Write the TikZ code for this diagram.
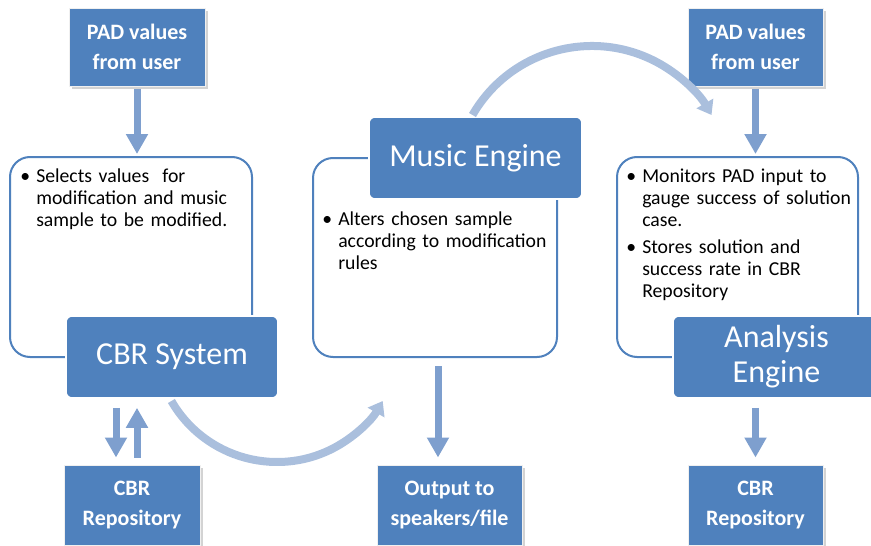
\documentclass[tikz,border=0pt]{standalone}
\usepackage{fontspec}
\setmainfont{Carlito}
\usetikzlibrary{arrows.meta,shadows}
\definecolor{boxblue}{RGB}{79,129,189}
\definecolor{arrblue}{RGB}{126,159,206}
\definecolor{curvblue}{RGB}{170,191,221}
\definecolor{lineblue}{RGB}{79,129,189}
\newcommand\bitem[1]{\hangindent=12pt\hangafter=1\noindent\makebox[12pt][l]{\textbullet}\strut#1\par}
\begin{document}
\begin{tikzpicture}[x=0.75pt,y=0.75pt,
  smallbox/.style={fill=boxblue, draw=gray!12, line width=0.75pt, text=white,
    font=\bfseries\fontsize{16.5pt}{22.5pt}\selectfont, align=center,
    minimum width=102pt, minimum height=60pt, inner sep=0pt,
    drop shadow={shadow xshift=2pt, shadow yshift=-2pt, opacity=0.35}},
  bigbox/.style={fill=boxblue, draw=white, line width=1.2pt, rounded corners=4.5pt,
    text=white, font=\fontsize{24pt}{26.25pt}\selectfont, align=center,
    minimum height=61.5pt, inner sep=0pt},
  panel/.style={draw=lineblue, line width=1.5pt, rounded corners=15pt, fill=white,
    minimum height=150pt, inner sep=0pt},
  bul/.style={anchor=north west, inner sep=0pt, text width=180pt,
    font=\fontsize{14.8pt}{16.5pt}\selectfont},
  arr/.style={draw=arrblue, line width=5.25pt, -{Triangle[width=15.75pt,length=15pt]}},
  curv/.style={draw=curvblue, line width=6pt, -{Triangle[width=14pt,length=10pt]}}]
\useasboundingbox (0,0) rectangle (871,-546);

% panels
\node[panel, minimum width=181.5pt] (L) at (131,-257) {};
\node[panel, minimum width=183pt, minimum height=149.25pt] (M) at (435,-257.5) {};
\node[panel, minimum width=180.75pt] (R) at (737.5,-257) {};

% bullet texts
\node[bul] (tL) at (20,-166.6) {\bitem{Selects values\ \ for\newline modification and music\newline sample to be modified.}};
\node[bul] (tM) at (322,-209.6) {\bitem{Alters chosen sample\newline according to modification\newline rules}};
\node[bul] (tR) at (626,-166.6) {\setlength{\parskip}{3.75pt}\bitem{Monitors PAD input to\newline gauge success of solution\newline case.}\bitem{Stores solution and\newline success rate in CBR\newline Repository}};

% big boxes
\node[bigbox, minimum width=159pt] (CBR) at (172,-357) {CBR System};
\node[bigbox, minimum width=159.75pt] (ME) at (475.5,-158) {Music Engine};
\node[bigbox, minimum width=155.25pt] (AE) at (776.5,-357) {Analysis\\Engine};

% small boxes
\node[smallbox, minimum height=58.5pt] (PAD1) at (137,-47) {PAD values\\from user};
\node[smallbox, minimum height=58.5pt, minimum width=101.25pt] (PAD2) at (755.5,-47) {PAD values\\from user};
\node[smallbox] (Rep1) at (132,-505) {CBR\\Repository};
\node[smallbox, minimum width=108.75pt] (Out) at (449.5,-505) {Output to\\speakers/file};
\node[smallbox, minimum width=101.25pt] (Rep2) at (755.5,-505) {CBR\\Repository};

% helper coordinates
\coordinate (dnx) at (116,0);
\coordinate (upx) at (137,0);
\coordinate (ox) at (438,0);

% straight arrows
\draw[arr, shorten <=1.5pt, shorten >=1.5pt] (PAD1.south) -- (PAD1.south |- L.north);
\draw[arr, shorten <=1.5pt, shorten >=1.5pt] (PAD2.south) -- (PAD2.south |- R.north);
\draw[arr, shorten <=6.75pt, shorten >=5.25pt] (CBR.south -| dnx) -- (Rep1.north -| dnx);
\draw[arr, shorten <=5.25pt, shorten >=6.75pt] (Rep1.north -| upx) -- (CBR.south -| upx);
\draw[arr, shorten <=6pt, shorten >=5.25pt] (M.south -| ox) -- (Out.north -| ox);
\draw[arr, shorten <=6.75pt, shorten >=5.25pt] (AE.south -| Rep2.north) -- (Rep2.north);

% curved arrows
\coordinate (c1) at (171.4,-401);
\draw[curv] (c1) arc[start angle=210, end angle=330, radius=122];
\coordinate (c2) at (472.5,-115);
\draw[curv] (c2) arc[start angle=150, end angle=30, radius=138];
\end{tikzpicture}
\end{document}
